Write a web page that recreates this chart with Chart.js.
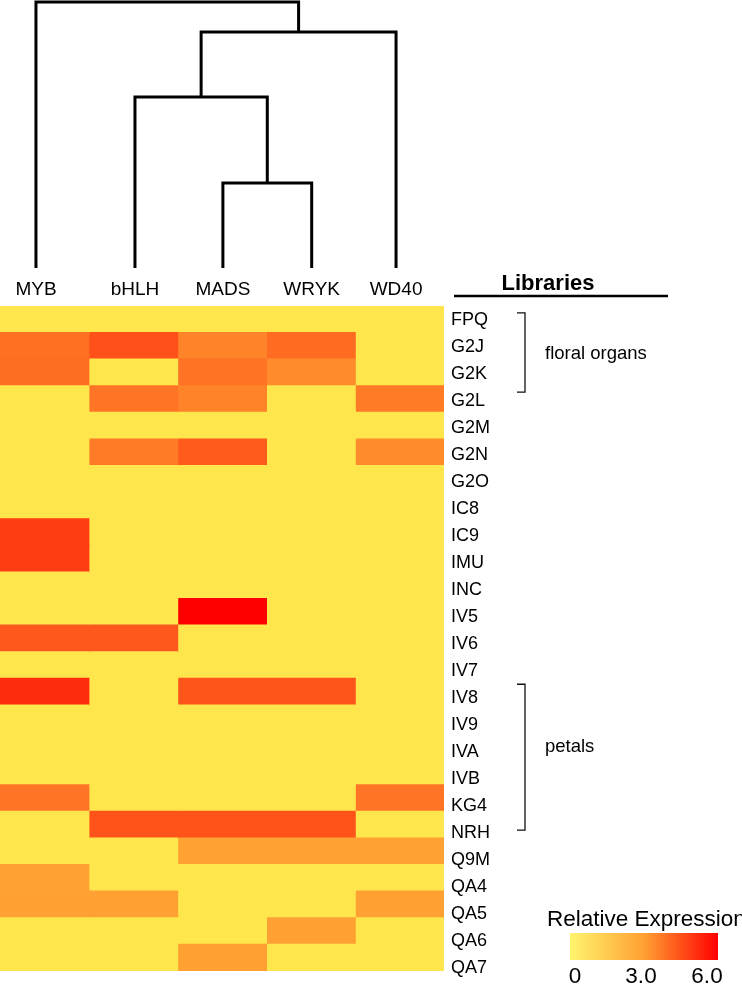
<!DOCTYPE html>
<html>
<head>
<meta charset="utf-8">
<script src="https://cdn.jsdelivr.net/npm/chart.js@4/dist/chart.umd.min.js"></script>
<style>
  html, body { margin: 0; padding: 0; background: #fff; }
  #wrap { position: relative; width: 742px; height: 985px; }
  #wrap canvas { position: absolute; left: 0; top: 0; }
</style>
</head>
<body>
<div id="wrap">
  <canvas id="heat" width="742" height="985"></canvas>
  <canvas id="tree" width="742" height="300"></canvas>
</div>
<script>
const el = id => document.getElementById(id);

// columns (transcription factor families) and rows (libraries)
const columns = ['MYB', 'bHLH', 'MADS', 'WRYK', 'WD40'];
const libraries = ['FPQ', 'G2J', 'G2K', 'G2L', 'G2M', 'G2N', 'G2O', 'IC8', 'IC9', 'IMU', 'INC', 'IV5', 'IV6',
  'IV7', 'IV8', 'IV9', 'IVA', 'IVB', 'KG4', 'NRH', 'Q9M', 'QA4', 'QA5', 'QA6', 'QA7'];

// relative expression per column, one value per library
const myb  = [0, 3.9, 3.95, 0, 0, 0, 0, 0, 4.85, 4.85, 0, 0, 4.35, 0, 5.2, 0, 0, 0, 3.8, 0, 0, 2.9, 3.0, 0, 0];
const bhlh = [0, 4.5, 0, 3.8, 0, 3.7, 0, 0, 0, 0, 0, 0, 4.35, 0, 0, 0, 0, 0, 0, 4.45, 0, 0, 3.0, 0, 0];
const mads = [0, 3.55, 3.85, 3.55, 0, 4.3, 0, 0, 0, 0, 0, 6.0, 0, 0, 4.4, 0, 0, 0, 0, 4.45, 2.9, 0, 0, 0, 3.0];
const wryk = [0, 4.0, 3.4, 0, 0, 0, 0, 0, 0, 0, 0, 0, 0, 0, 4.4, 0, 0, 0, 0, 4.45, 2.9, 0, 0, 3.0, 0];
const wd40 = [0, 0, 0, 3.7, 0, 3.4, 0, 0, 0, 0, 0, 0, 0, 0, 0, 0, 0, 0, 3.8, 0, 2.9, 0, 3.0, 0, 0];
const series = [myb, bhlh, mads, wryk, wd40];

// dendrogram: leaf positions (column units) and merges [left, right, height]
const leafX = [0.405, 1.52, 2.51, 3.51, 4.46];
const links = [[2, 3, 0.32], [1, 5, 0.643], [6, 4, 0.887], [0, 7, 1.0]];

// colour scale
const legendTicks = [0, 3, 6];
const colorStops = [[0, [255, 230, 76]], [3, [255, 160, 50]], [6, [255, 0, 0]]];

function colorFor(v) {
  for (let i = 1; i < colorStops.length; i++) {
    const [v1, c1] = colorStops[i];
    const [v0, c0] = colorStops[i - 1];
    if (v <= v1 || i === colorStops.length - 1) {
      const t = Math.max(0, Math.min(1, (v - v0) / (v1 - v0)));
      const c = c0.map((x, k) => Math.round(x + (c1[k] - x) * t));
      return `rgb(${c[0]},${c[1]},${c[2]})`;
    }
  }
}

Chart.defaults.font.family = '"Liberation Sans", Arial, sans-serif';
Chart.defaults.color = '#000';

const FONT = Chart.defaults.font.family;

// brackets beside the row labels (in label-axis units)
const groups = [
  { text: 'floral organs', y0: -0.25, y1: 2.68, ty: 1.27 },
  { text: 'petals', y0: 13.5, y1: 18.9, ty: 15.83 }
];

const annotations = {
  id: 'annotations',
  afterDraw(chart) {
    const ctx = chart.ctx;
    const area = chart.chartArea;
    const yl = chart.scales.yl;
    ctx.save();

    // Libraries header
    ctx.fillStyle = '#000';
    ctx.font = `bold 22px ${FONT}`;
    ctx.textAlign = 'center';
    ctx.textBaseline = 'alphabetic';
    ctx.fillText('Libraries', area.right + 104, 290);
    ctx.strokeStyle = '#000';
    ctx.lineWidth = 2.5;
    ctx.beginPath();
    ctx.moveTo(area.right + 10, 296);
    ctx.lineTo(area.right + 224, 296);
    ctx.stroke();

    // brackets
    ctx.lineWidth = 1.3;
    ctx.strokeStyle = '#111';
    ctx.font = `18.5px ${FONT}`;
    ctx.textAlign = 'left';
    ctx.textBaseline = 'middle';
    groups.forEach(g => {
      const bx = area.right + 81;
      const top = yl.getPixelForValue(g.y0);
      const bot = yl.getPixelForValue(g.y1);
      ctx.beginPath();
      ctx.moveTo(bx - 8, top);
      ctx.lineTo(bx, top);
      ctx.lineTo(bx, bot);
      ctx.lineTo(bx - 8, bot);
      ctx.stroke();
      ctx.fillText(g.text, bx + 20, yl.getPixelForValue(g.ty));
    });

    // colour legend
    ctx.font = `22.5px ${FONT}`;
    ctx.textBaseline = 'alphabetic';
    ctx.textAlign = 'left';
    ctx.fillText('Relative Expression', 547, 926);
    const lx0 = 570, lx1 = 718, ly0 = 933, ly1 = 960;
    const maxV = legendTicks[legendTicks.length - 1];
    const grad = ctx.createLinearGradient(lx0, 0, lx1, 0);
    colorStops.forEach(([v]) => grad.addColorStop(v / maxV, colorFor(v)));
    grad.addColorStop(0, 'rgb(255,244,110)');
    ctx.fillStyle = grad;
    ctx.fillRect(lx0, ly0, lx1 - lx0, ly1 - ly0);
    ctx.fillStyle = '#000';
    ctx.textAlign = 'center';
    legendTicks.forEach(v => {
      const x = 575 + (707 - 575) * v / maxV;
      ctx.fillText(v === 0 ? '0' : v.toFixed(1), x, 983);
    });
    ctx.restore();
  }
};

// heatmap
new Chart(el('heat'), {
  type: 'bar',
  data: {
    labels: libraries,
    datasets: columns.map((name, c) => ({
      label: name,
      data: libraries.map(() => [c, c + 1]),
      backgroundColor: series[c].map(colorFor),
      borderWidth: 0,
      inflateAmount: 0.6,
      barPercentage: 1,
      categoryPercentage: 1,
      grouped: false
    }))
  },
  options: {
    indexAxis: 'y',
    responsive: false,
    animation: false,
    layout: { padding: { top: 306, bottom: 14, left: 0, right: 0 } },
    plugins: { legend: { display: false }, tooltip: { enabled: false } },
    scales: {
      x: { type: 'linear', min: 0, max: columns.length, display: false },
      y: { type: 'category', display: false },
      yl: {
        type: 'linear',
        position: 'right',
        reverse: true,
        offset: false,
        min: -0.507,
        max: 24.12,
        grid: { display: false, drawTicks: false },
        border: { display: false },
        afterBuildTicks: ax => { ax.ticks = libraries.map((_, i) => ({ value: i })); },
        afterFit: ax => {
          ax.width = 298;
          ax.paddingTop = 0;
          ax.paddingBottom = 0;
        },
        ticks: {
          autoSkip: false,
          padding: 7,
          color: '#000',
          font: { size: 18 },
          callback: v => libraries[Math.round(v)]
        }
      }
    }
  },
  plugins: [annotations]
});

// dendrogram
const nodes = leafX.map(x => ({ x, h: 0 }));
links.forEach(([a, b, h]) => nodes.push({ x: (nodes[a].x + nodes[b].x) / 2, h }));

new Chart(el('tree'), {
  type: 'scatter',
  data: {
    datasets: links.map(([a, b, h]) => ({
      data: [
        { x: nodes[a].x, y: nodes[a].h },
        { x: nodes[a].x, y: h },
        { x: nodes[b].x, y: h },
        { x: nodes[b].x, y: nodes[b].h }
      ],
      showLine: true,
      borderColor: '#000',
      borderWidth: 3,
      pointRadius: 0,
      clip: false,
      tension: 0
    }))
  },
  options: {
    responsive: false,
    animation: false,
    layout: { padding: { top: 2, right: 298, left: 0, bottom: 0 } },
    plugins: { legend: { display: false }, tooltip: { enabled: false } },
    scales: {
      x: {
        type: 'linear',
        min: 0,
        max: columns.length,
        grid: { display: false, drawTicks: false },
        border: { display: false },
        afterBuildTicks: ax => { ax.ticks = leafX.map(v => ({ value: v })); },
        afterFit: ax => { ax.height = 32; },
        ticks: {
          autoSkip: false,
          maxRotation: 0,
          padding: 10,
          color: '#000',
          font: { size: 19 },
          callback: (v, i) => columns[i]
        }
      },
      y: { min: 0, max: 1, display: false }
    }
  }
});
</script>
</body>
</html>
